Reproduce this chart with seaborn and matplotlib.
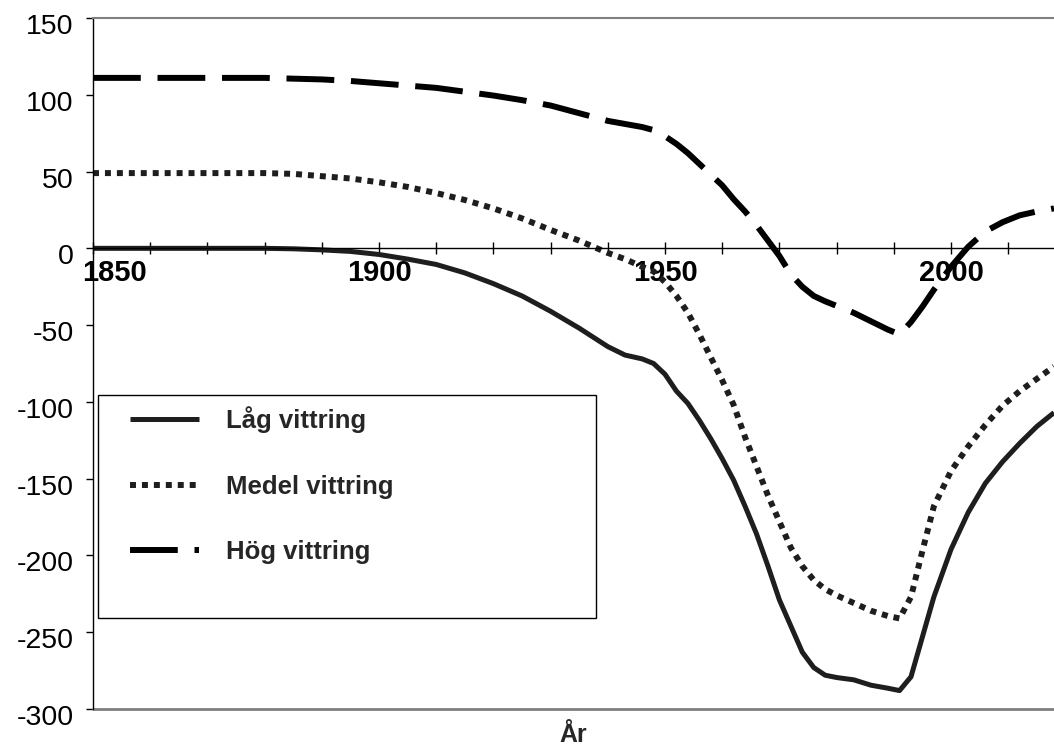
"""Vittringsscenarier 1850-2018, linjediagram."""

import matplotlib

matplotlib.use("Agg")
import matplotlib.pyplot as plt
import matplotlib.transforms as mtransforms
import pandas as pd
import seaborn as sns
from matplotlib.patches import Rectangle

# avlästa värden
years = [1850, 1860, 1870, 1880, 1885, 1890, 1895, 1900, 1905, 1910, 1915, 1920,
         1925, 1930, 1935, 1940, 1943, 1946, 1948, 1950, 1952, 1954, 1956, 1958,
         1960, 1962, 1964, 1966, 1968, 1970, 1972, 1974, 1976, 1978, 1980, 1983,
         1986, 1989, 1991, 1993, 1995, 1997, 2000, 2003, 2006, 2009, 2012, 2015, 2018]
lag = [0, 0, 0, 0, -0.3, -1, -2, -4, -7, -10.5, -16, -23,
       -31, -41, -52, -64, -69.5, -72, -75, -82, -93, -101, -112, -124,
       -137, -151, -168, -186, -207, -229, -246, -263, -273, -278, -279.5, -281,
       -284.5, -286.5, -288, -279, -253, -227, -196, -172, -153, -139, -127, -116, -107]
medel = [49, 49, 49, 49, 48.5, 47, 45.5, 43, 40, 36, 31.5, 26,
         19.5, 12, 5, -3, -7, -12, -15, -22, -31, -42, -56, -71,
         -86, -102, -123, -142, -161, -178, -195, -207, -216, -222, -226, -231,
         -236, -239.5, -241, -227, -197, -168, -145, -129, -115, -102.5, -93, -85, -77]
hog = [111, 111, 111, 111, 110.5, 110, 109, 107.5, 106, 104.5, 102, 99.5,
       96.5, 93, 88, 83, 81, 79, 77, 73, 68, 62, 55, 48,
       41, 32, 24, 15, 5, -5, -17, -25, -31, -34.5, -37.5, -42,
       -47.5, -53, -56, -48, -38, -27, -12, 1, 11, 17, 21.5, 24, 26]

series_names = ["Låg vittring", "Medel vittring", "Hög vittring"]
x_ticks = list(range(1850, 2011, 10))
x_labels = ["1850", "1900", "1950", "2000"]
y_ticks = list(range(-300, 151, 50))

df = pd.DataFrame({
    "År": years * 3,
    "värde": lag + medel + hog,
    "serie": [name for name in series_names for _ in years],
})

sns.set_theme(style="white")
plt.rcParams["font.family"] = ["Liberation Sans", "DejaVu Sans"]

fig = plt.figure(figsize=(10.54, 7.46), dpi=100)
ax = fig.add_axes([93 / 1054, 37 / 746, 961 / 1054, 691 / 746])

sns.lineplot(
    data=df, x="År", y="värde", hue="serie", style="serie",
    hue_order=series_names, style_order=series_names,
    palette={"Låg vittring": "#1e1e1e", "Medel vittring": "#1e1e1e", "Hög vittring": "#000000"},
    dashes={"Låg vittring": "", "Medel vittring": (1, 1), "Hög vittring": (8, 2.8)},
    linewidth=4.3, legend=False, ax=ax,
)
lines = list(ax.get_lines())[:3]
lines[0].set_linewidth(3.6)
for ln in lines:
    ln.set_solid_capstyle("butt")
    ln.set_solid_joinstyle("round")
    ln.set_dash_joinstyle("round")

ax.set_xlim(1850, 2018)
ax.set_ylim(-300, 150)

# x-axeln går genom noll
ax.spines["bottom"].set_position(("data", 0))
ax.spines["bottom"].set_color("black")
ax.spines["bottom"].set_linewidth(1)
ax.spines["left"].set_color("black")
ax.spines["left"].set_linewidth(1)
ax.spines["right"].set_visible(False)
ax.spines["top"].set_color("#808080")
ax.spines["top"].set_linewidth(1.5)
ax.axhline(-300, color="#808080", lw=2, clip_on=False)

ax.set_xticks(x_ticks)
ax.set_xticklabels([str(t) if str(t) in x_labels else "" for t in x_ticks],
                   fontweight="bold", fontsize=21)
ax.set_yticks(y_ticks)
ax.set_yticklabels([str(t) for t in y_ticks], fontsize=20.5)
ax.tick_params(axis="x", bottom=True, direction="inout", length=9, width=1,
               color="black", pad=3, labelcolor="black")
ax.tick_params(axis="y", left=True, direction="out", length=5, width=1,
               color="black", pad=9, labelcolor="black")

# 1850 står till höger om axeln
ax.get_xticklabels()[0].set_transform(
    ax.get_xticklabels()[0].get_transform()
    + mtransforms.ScaledTranslation(0.21, 0, fig.dpi_scale_trans))
for lbl in ax.get_yticklabels():
    lbl.set_transform(lbl.get_transform()
                      + mtransforms.ScaledTranslation(0, -0.06, fig.dpi_scale_trans))

ax.set_xlabel("")
ax.set_ylabel("")
ax.text(0.5, -0.0475, "År", transform=ax.transAxes, ha="center", va="baseline",
        fontsize=18, fontweight="bold")

# förklaringsruta
ax.add_patch(Rectangle((0.0052, 0.131), 0.518, 0.323, transform=ax.transAxes,
                       facecolor="white", edgecolor="black", lw=1, zorder=3))
ax.legend(lines, series_names, loc="upper left", bbox_to_anchor=(0.0385, 0.438),
          frameon=False, borderpad=0, borderaxespad=0, handlelength=2.7,
          handletextpad=1.05, labelspacing=1.62,
          prop={"size": 18.5, "weight": "bold"})

fig.savefig("out.png", dpi=100)
